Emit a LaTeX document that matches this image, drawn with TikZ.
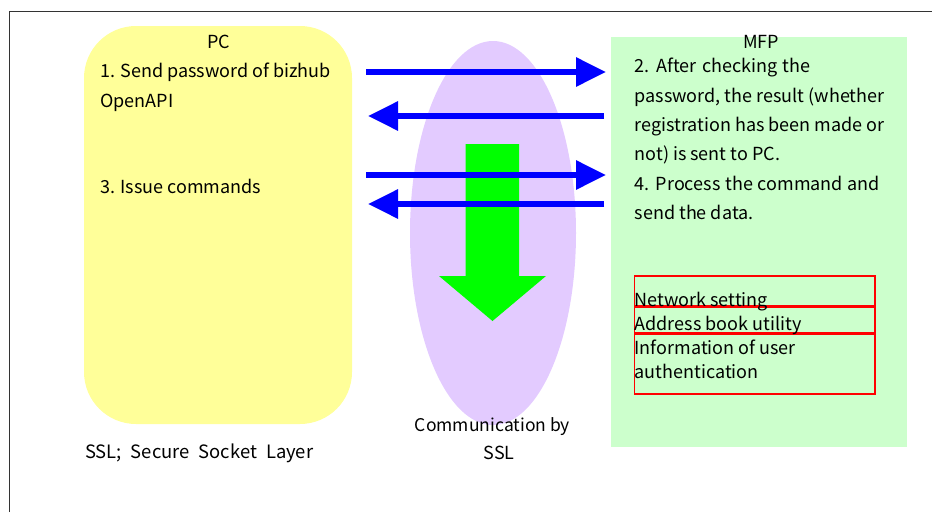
\documentclass[tikz,border=0pt]{standalone}
\usepackage{fontspec}
\setmainfont{Noto Sans CJK JP}
\usetikzlibrary{arrows.meta}
\definecolor{pcfill}{HTML}{FFFF99}
\definecolor{mfpfill}{HTML}{CCFFCC}
\definecolor{sslfill}{HTML}{E3CBFF}
\definecolor{arrowblue}{HTML}{0000FF}
\definecolor{biggreen}{HTML}{00FF00}
\definecolor{boxred}{HTML}{FF0000}
\definecolor{framegray}{HTML}{333333}
\tikzset{
  x=1pt,y=-1pt,
  lbl/.style={inner sep=0pt,anchor=base west,font=\fontsize{18}{22}\selectfont,text=black},
  lblc/.style={lbl,anchor=base},
  flow/.style={draw=arrowblue,line width=6pt,-{Triangle[length=30pt,width=28pt]}},
  redbox/.style={draw=boxred,line width=1.4pt,fill=none},
}
\begin{document}
\begin{tikzpicture}
\useasboundingbox (0,0) rectangle (932,512);
\draw[framegray,line width=1.5pt] (9.5,512) -- (9.5,11.5) -- (932,11.5);
\fill[pcfill,rounded corners=52pt] (84,26) rectangle (352,424);
\fill[mfpfill] (611,36.5) rectangle (907,447);
\fill[sslfill] (493,233) ellipse [x radius=83,y radius=192];
\fill[biggreen] (465.5,144) -- (519,144) -- (519,276) -- (546,276) -- (492.5,321) -- (439,276) -- (465.5,276) -- cycle;
\coordinate (a1s) at (366,72);  \coordinate (a1e) at (606,72);
\coordinate (a2s) at (604,116); \coordinate (a2e) at (368,116);
\coordinate (a3s) at (366,175); \coordinate (a3e) at (606,175);
\coordinate (a4s) at (604,204); \coordinate (a4e) at (368,204);
\draw[flow] (a1s) -- (a1e);
\draw[flow] (a2s) -- (a2e);
\draw[flow] (a3s) -- (a3e);
\draw[flow] (a4s) -- (a4e);
\draw[redbox] (634.5,276) rectangle (875,306);
\draw[redbox] (634.5,307.5) rectangle (875,333);
\draw[redbox] (634.5,334.5) rectangle (875,394);
\node[lblc] (pc) at (218.5,48) {PC};
\node[lblc] (mfp) at (761,48) {MFP};
\node[lbl] (p1) at (100,77.5) {1. Send password of bizhub};
\node[lbl] (p2) at (100,107) {OpenAPI};
\node[lbl] (p3) at (100,193) {3. Issue commands};
\node[lbl] (m1) at (634.5,72) {\spaceskip=5.5pt 2. After checking the};
\node[lbl] (m2) at (634.5,102) {password, the result (whether};
\node[lbl] (m3) at (634.5,131) {registration has been made or};
\node[lbl] (m4) at (634.5,160) {not) is sent to PC.};
\node[lbl] (m5) at (634.5,190) {\spaceskip=4.8pt 4. Process the command and};
\node[lbl] (m6) at (634.5,219) {send the data.};
\node[lbl] (r1) at (634.5,306) {Network setting};
\node[lbl] (r2) at (634.5,330) {Address book utility};
\node[lbl] (r3) at (634.5,354) {Information of user};
\node[lbl] (r4) at (634.5,378) {authentication};
\node[lblc] (c1) at (492.5,431) {\fontsize{17.5}{22}\selectfont Communication by};
\node[lblc] (c2) at (499,459) {SSL};
\node[lbl] (s) at (85,458.5) {\fontsize{18.4}{22}\selectfont\spaceskip=9pt SSL; Secure Socket Layer};
\end{tikzpicture}
\end{document}
